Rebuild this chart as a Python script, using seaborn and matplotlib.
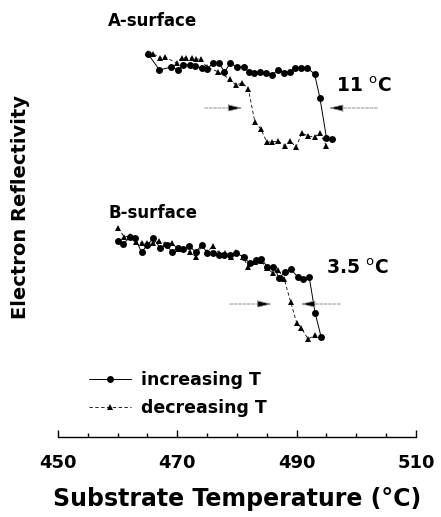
import matplotlib
matplotlib.use("Agg")
from matplotlib import pyplot as plt
import seaborn as sns

# temperatures (C) and reflectivity (arb. units)
a_inc_t = [465.1, 467.0, 469.0, 470.1, 471.0, 472.1, 473.0, 474.1, 475.0, 476.0,
           477.0, 477.9, 478.9, 480.0, 481.1, 482.0, 482.9, 483.9, 484.9, 485.8,
           486.9, 487.9, 488.9, 489.8, 490.8, 491.8, 493.0, 493.9, 495.0, 495.9]
a_inc_r = [34.6, 33.0, 33.3, 33.0, 33.5, 33.5, 33.4, 33.2, 33.1, 33.7,
           33.7, 32.8, 33.7, 33.3, 33.3, 32.8, 32.7, 32.8, 32.7, 32.5,
           33.0, 32.7, 32.8, 33.2, 33.2, 33.2, 32.6, 30.2, 26.2, 26.1]

a_dec_t = [465.1, 465.9, 467.1, 467.9, 469.9, 470.7, 471.5, 472.4, 473.2, 474.0,
           474.9, 476.9, 478.8, 479.8, 480.9, 481.9, 483.0, 484.0, 485.0, 485.8,
           486.9, 488.0, 488.9, 489.9, 490.9, 491.9, 493.0, 493.9, 495.0]
a_dec_r = [34.7, 34.65, 34.2, 34.3, 33.7, 34.2, 34.2, 34.2, 34.1, 34.1,
           33.3, 32.8, 32.1, 31.5, 31.7, 31.1, 27.8, 27.1, 25.8, 25.8,
           25.9, 25.4, 25.9, 25.3, 26.7, 26.4, 26.3, 26.7, 25.4]

b_inc_t = [460.1, 460.9, 462.1, 462.9, 464.0, 465.0, 466.0, 467.1, 468.2, 469.1,
           470.1, 471.0, 472.0, 473.1, 474.1, 475.0, 476.0, 477.0, 477.9, 478.8,
           479.9, 481.1, 482.1, 483.2, 484.1, 485.1, 486.1, 487.1, 488.0, 489.0,
           490.2, 491.1, 492.1, 493.1, 494.1]
b_inc_r = [15.9, 15.6, 16.3, 16.2, 14.8, 15.5, 16.2, 15.2, 15.5, 14.8,
           15.2, 15.1, 15.4, 14.8, 15.5, 14.7, 14.7, 14.5, 14.5, 14.5,
           14.7, 14.3, 13.7, 14.0, 14.1, 13.3, 13.3, 12.2, 12.8, 13.1,
           12.3, 12.1, 12.3, 8.7, 6.3]

b_dec_t = [460.1, 461.1, 462.0, 463.1, 464.0, 465.0, 466.0, 467.0, 468.0, 469.1,
           470.1, 471.0, 472.1, 473.2, 474.1, 475.0, 476.0, 477.0, 478.0, 479.0,
           479.9, 481.0, 481.9, 483.0, 484.0, 485.0, 486.0, 486.9, 487.9, 489.0,
           490.0, 490.8, 491.9, 493.1]
b_dec_r = [17.2, 16.3, 16.4, 15.8, 15.7, 15.7, 15.7, 15.9, 15.6, 15.7,
           15.1, 15.1, 14.8, 14.3, 15.5, 14.8, 15.4, 14.7, 14.7, 14.3,
           14.8, 14.3, 13.3, 13.8, 13.9, 13.2, 12.7, 13.0, 12.1, 9.8,
           7.7, 7.2, 6.1, 6.5]

sns.set_style("white")
plt.rcParams['font.family'] = ['DejaVu Sans']
plt.rcParams['text.color'] = 'black'
plt.rcParams['axes.labelcolor'] = 'black'
plt.rcParams['xtick.color'] = 'black'

fig = plt.figure(figsize=(4.41, 5.17), dpi=100)
ax = fig.add_axes([0.1315, 0.1547, 0.8118, 0.8453])

inc_kw = dict(color='black', marker='o', markersize=5, linewidth=0.7,
              markeredgewidth=0, sort=False, estimator=None)
dec_kw = dict(color='black', marker='^', markersize=4.6, linewidth=0.6,
              markeredgewidth=0, sort=False, estimator=None)

sns.lineplot(x=a_inc_t, y=a_inc_r, ax=ax, label='increasing T', **inc_kw)
sns.lineplot(x=a_dec_t, y=a_dec_r, ax=ax, label='decreasing T',
             linestyle=(0, (4, 3)), **dec_kw)
sns.lineplot(x=b_inc_t, y=b_inc_r, ax=ax, **inc_kw)
sns.lineplot(x=b_dec_t, y=b_dec_r, ax=ax, linestyle=(0, (4, 3)), **dec_kw)

ax.set_xlim(450, 510)
ax.set_ylim(-3.7, 40)

# transition arrows: pale dotted shaft, solid black head
def arrow(x0, x1, y):
    ax.annotate('', xy=(x1, y), xytext=(x0, y),
                arrowprops=dict(arrowstyle='-|>,head_length=0.9,head_width=0.22',
                                ec='0.55', fc='black', lw=0.7,
                                linestyle=(0, (3, 1.5)),
                                shrinkA=0, shrinkB=0))

arrow(474.6, 481.0, 29.2)
arrow(503.5, 495.3, 29.2)
arrow(478.8, 485.9, 9.6)
arrow(497.3, 490.6, 9.6)

ax.text(458.4, 37.9, 'A-surface', fontsize=12, fontweight='bold', va='center')
ax.text(458.4, 18.7, 'B-surface', fontsize=12, fontweight='bold', va='center')
ax.text(496.6, 31.4, r'11 $^{\rm o}$C', fontsize=13.5, fontweight='bold', va='center')
ax.text(495.0, 13.2, r'3.5 $^{\rm o}$C', fontsize=13.5, fontweight='bold', va='center')

# axes styling
for s in ['left', 'top', 'right']:
    ax.spines[s].set_visible(False)
ax.spines['bottom'].set_color('black')
ax.spines['bottom'].set_linewidth(1.0)
ax.set_yticks([])
ax.set_xticks([450, 470, 490, 510])
ax.set_xticks(range(450, 511, 5), minor=True)
ax.tick_params(axis='x', which='both', bottom=True, direction='in', width=1,
               color='black')
ax.tick_params(axis='x', which='major', length=5, pad=12, labelsize=13)
ax.tick_params(axis='x', which='minor', length=3)
for lab in ax.get_xticklabels():
    lab.set_fontweight('bold')

ax.set_xlabel('Substrate Temperature (°C)', fontsize=17, fontweight='bold',
              labelpad=11)
ax.set_ylabel('Electron Reflectivity', fontsize=14, fontweight='bold')
ax.yaxis.set_label_coords(-0.078, 0.526)

ax.legend(loc='center left', bbox_to_anchor=(0.0866, 0.098), frameon=False,
          prop={'size': 12.5, 'weight': 'bold'}, handlelength=2.4,
          handletextpad=0.6, labelspacing=0.6, borderpad=0, borderaxespad=0)

fig.savefig('out.png', dpi=100)
